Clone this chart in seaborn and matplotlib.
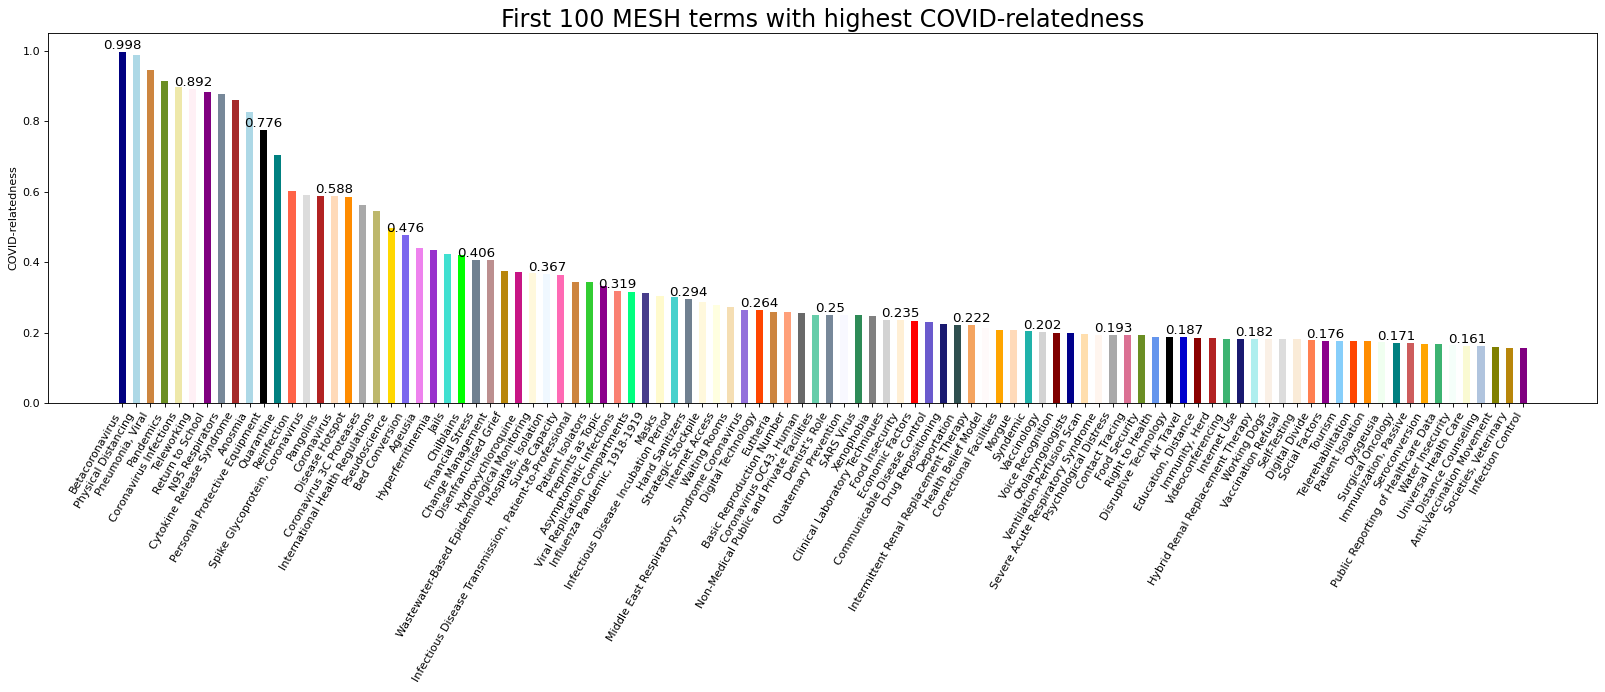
import numpy as np
import pandas as pd
import matplotlib
matplotlib.use('Agg')
import matplotlib.pyplot as plt
import seaborn as sns

# MESH terms, ordered by relatedness
terms = [
    'Betacoronavirus', 'Physical Distancing', 'Pneumonia, Viral', 'Pandemics',
    'Coronavirus Infections', 'Teleworking', 'Return to School', 'N95 Respirators',
    'Cytokine Release Syndrome', 'Anosmia', 'Personal Protective Equipment', 'Quarantine',
    'Reinfection', 'Spike Glycoprotein, Coronavirus', 'Pangolins', 'Coronavirus',
    'Disease Hotspot', 'Coronavirus 3C Proteases', 'International Health Regulations',
    'Pseudoscience', 'Bed Conversion', 'Ageusia', 'Hyperferritinemia', 'Jails',
    'Chilblains', 'Financial Stress', 'Change Management', 'Disenfranchised Grief',
    'Hydroxychloroquine', 'Wastewater-Based Epidemiological Monitoring',
    'Hospitals, Isolation', 'Surge Capacity',
    'Infectious Disease Transmission, Patient-to-Professional', 'Patient Isolators',
    'Preprints as Topic', 'Asymptomatic Infections', 'Viral Replication Compartments',
    'Influenza Pandemic, 1918-1919', 'Masks', 'Infectious Disease Incubation Period',
    'Hand Sanitizers', 'Strategic Stockpile', 'Internet Access', 'Waiting Rooms',
    'Middle East Respiratory Syndrome Coronavirus', 'Digital Technology', 'Eutheria',
    'Basic Reproduction Number', 'Coronavirus OC43, Human',
    'Non-Medical Public and Private Facilities', "Dentist's Role",
    'Quaternary Prevention', 'SARS Virus', 'Xenophobia',
    'Clinical Laboratory Techniques', 'Food Insecurity', 'Economic Factors',
    'Communicable Disease Control', 'Drug Repositioning', 'Deportation',
    'Intermittent Renal Replacement Therapy', 'Health Belief Model',
    'Correctional Facilities', 'Morgue', 'Syndemic', 'Vaccinology', 'Voice Recognition',
    'Otolaryngologists', 'Ventilation-Perfusion Scan', 'Severe Acute Respiratory Syndrome',
    'Psychological Distress', 'Contact Tracing', 'Food Security', 'Right to Health',
    'Disruptive Technology', 'Air Travel', 'Education, Distance', 'Immunity, Herd',
    'Videoconferencing', 'Internet Use', 'Hybrid Renal Replacement Therapy',
    'Working Dogs', 'Vaccination Refusal', 'Self-Testing', 'Digital Divide',
    'Social Factors', 'Tourism', 'Telerehabilitation', 'Patient Isolation', 'Dysgeusia',
    'Surgical Oncology', 'Immunization, Passive', 'Seroconversion',
    'Public Reporting of Healthcare Data', 'Water Insecurity', 'Universal Health Care',
    'Distance Counseling', 'Anti-Vaccination Movement', 'Societies, Veterinary',
    'Infection Control',
]

relatedness = [
    0.998, 0.988, 0.945, 0.914, 0.897, 0.892, 0.883, 0.877, 0.860, 0.826,
    0.776, 0.703, 0.602, 0.590, 0.587, 0.588, 0.585, 0.562, 0.545, 0.497,
    0.476, 0.439, 0.434, 0.423, 0.421, 0.406, 0.406, 0.375, 0.372, 0.369,
    0.367, 0.363, 0.343, 0.343, 0.331, 0.319, 0.315, 0.312, 0.303, 0.300,
    0.294, 0.286, 0.277, 0.272, 0.265, 0.264, 0.258, 0.258, 0.255, 0.250,
    0.250, 0.250, 0.250, 0.247, 0.236, 0.235, 0.233, 0.230, 0.224, 0.222,
    0.222, 0.213, 0.207, 0.207, 0.204, 0.202, 0.199, 0.199, 0.196, 0.193,
    0.193, 0.193, 0.192, 0.187, 0.187, 0.187, 0.184, 0.184, 0.182, 0.182,
    0.182, 0.182, 0.181, 0.181, 0.179, 0.176, 0.176, 0.176, 0.175, 0.173,
    0.171, 0.171, 0.168, 0.168, 0.165, 0.161, 0.161, 0.159, 0.156, 0.156,
]

bar_colors = [
    'navy', 'lightblue', 'peru', 'olivedrab', 'palegoldenrod', 'lavenderblush', 'purple',
    'lightslategray', 'brown', 'lightblue', 'black', 'teal', 'tomato', 'gainsboro',
    'firebrick', 'peachpuff', 'darkorange', 'darkgray', 'darkkhaki', 'gold',
    'mediumslateblue', 'violet', 'darkorchid', 'turquoise', 'lime', 'slategray',
    'rosybrown', 'darkgoldenrod', 'mediumvioletred', 'cornsilk', 'aliceblue', 'hotpink',
    'peru', 'limegreen', 'darkmagenta', 'salmon', 'springgreen', 'darkslateblue',
    'lemonchiffon', 'mediumturquoise', 'slategray', 'cornsilk', 'lightyellow', 'wheat',
    'mediumpurple', 'orangered', 'peru', 'lightsalmon', 'dimgray', 'mediumaquamarine',
    'lightslategray', 'ghostwhite', 'seagreen', 'gray', 'lightgray', 'papayawhip', 'red',
    'slateblue', 'midnightblue', 'darkslategray', 'sandybrown', 'snow', 'orange',
    'peachpuff', 'lightseagreen', 'lightgray', 'maroon', 'darkblue', 'navajowhite',
    'seashell', 'darkgray', 'palevioletred', 'olivedrab', 'cornflowerblue', 'black',
    'mediumblue', 'darkred', 'firebrick', 'mediumseagreen', 'midnightblue',
    'paleturquoise', 'linen', 'gainsboro', 'antiquewhite', 'coral', 'darkmagenta',
    'lightskyblue', 'orangered', 'darkorange', 'honeydew', 'teal', 'indianred', 'orange',
    'mediumseagreen', 'mintcream', 'lightgoldenrodyellow', 'lightsteelblue', 'olive',
    'darkgoldenrod', 'purple',
]

df = pd.DataFrame({'term': terms, 'score': relatedness})
n = len(df)

fig, ax = plt.subplots(figsize=(1605 / 80, 692 / 80), dpi=80)
sns.barplot(data=df, x='term', y='score', hue='term', palette=bar_colors,
            saturation=1, width=0.5, legend=False, ax=ax)

# label every 5th bar with its value
for i in range(0, n, 5):
    v = df['score'][i]
    ax.text(i, v, str(round(v, 3)), ha='center', va='bottom', fontsize=12)

# matplotlib-like margins instead of seaborn's tight categorical limits
pad = 0.05 * (n - 0.5)
ax.set_xlim(-0.25 - pad, n - 0.75 + pad)
ax.set_ylim(0, 1.05)
ax.set_xticks(range(n))
ax.set_xticklabels(df['term'], rotation=60, ha='right', fontsize=10)
ax.set_xlabel('')
ax.set_ylabel('COVID-relatedness')
ax.set_title('First 100 MESH terms with highest COVID-relatedness', fontsize=21.5)

plt.subplots_adjust(left=0.030, right=0.9953, top=0.952, bottom=0.4176)
plt.savefig('out.png', dpi=80)
